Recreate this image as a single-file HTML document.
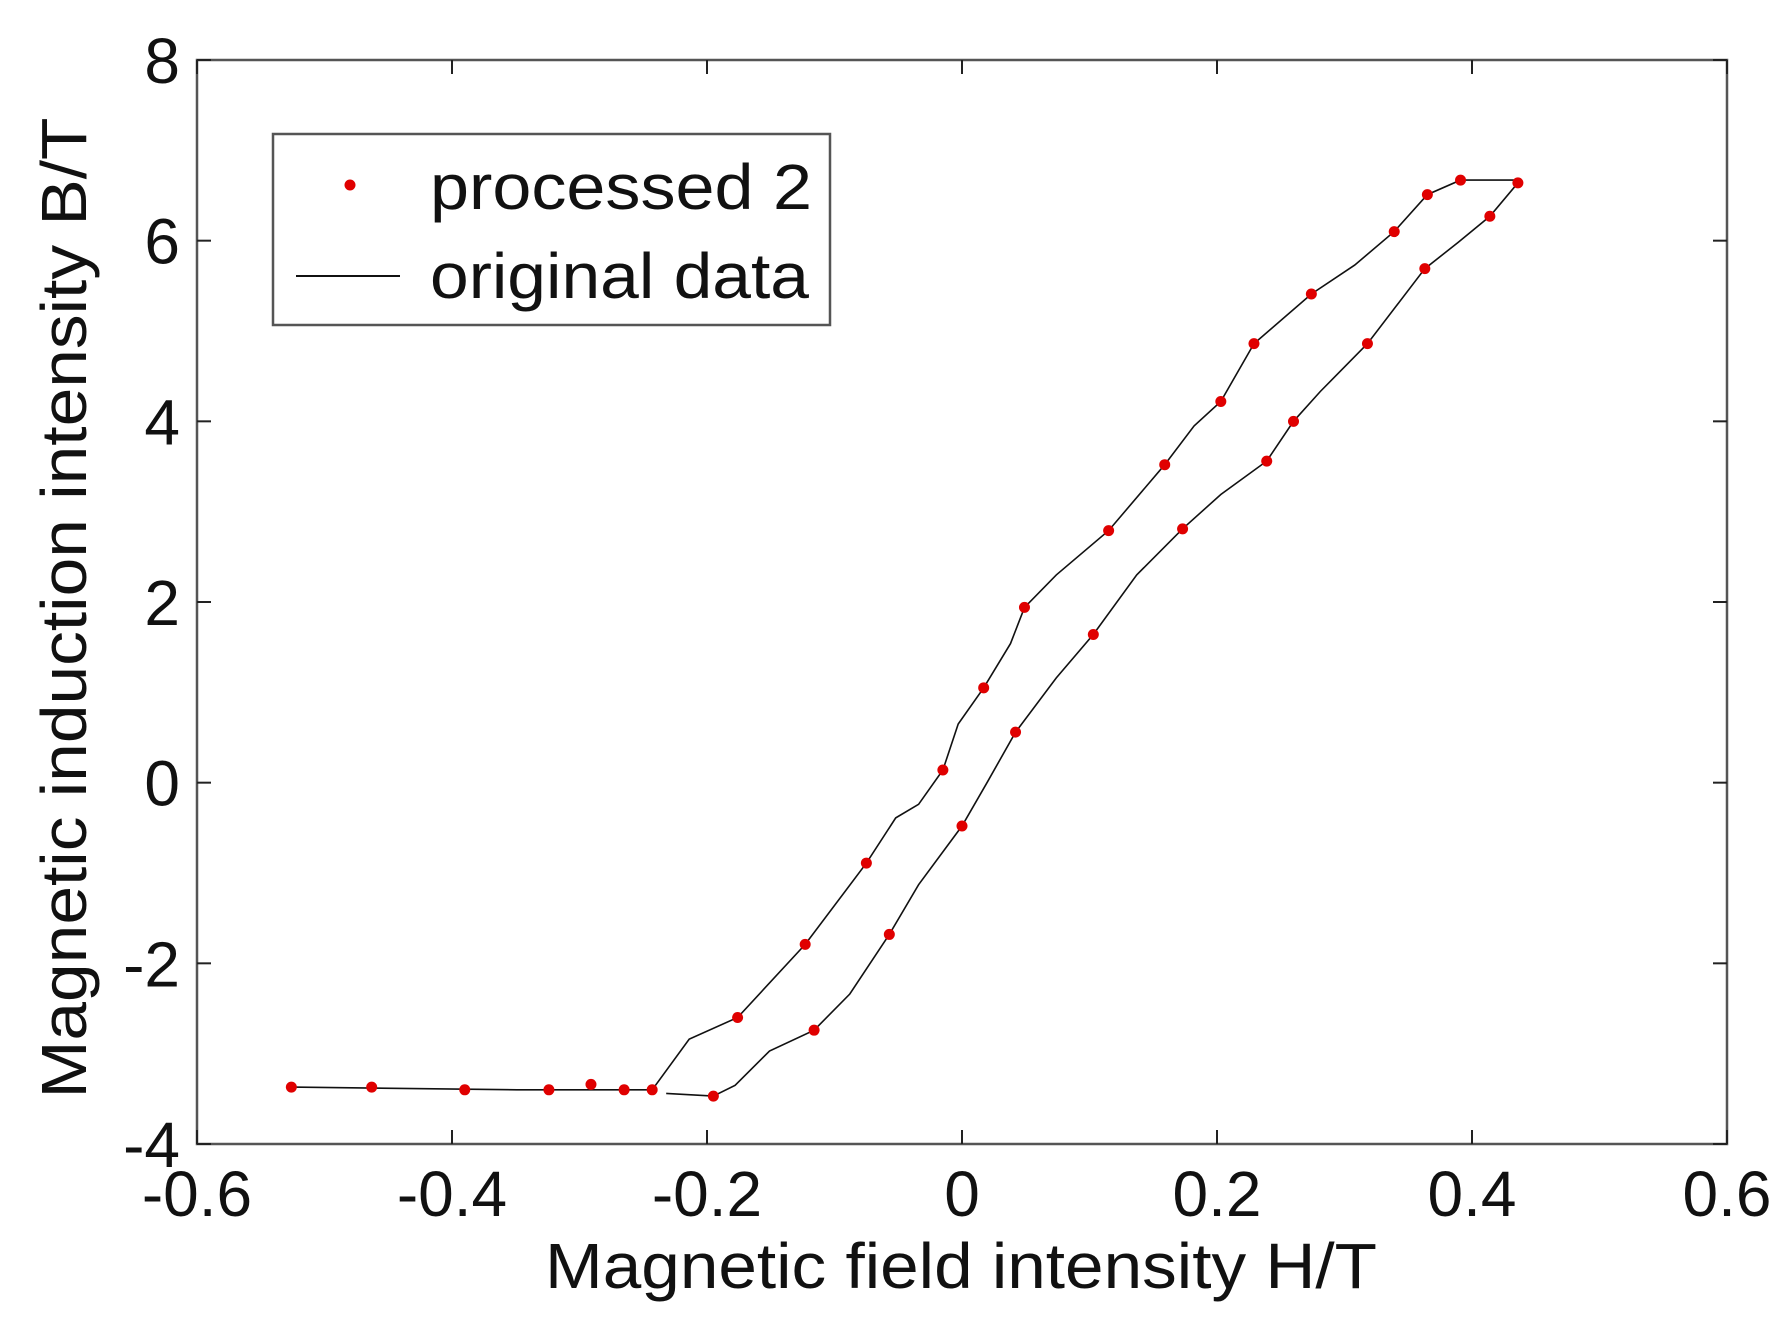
<!DOCTYPE html>
<html><head><meta charset="utf-8"><style>
html,body{margin:0;padding:0;background:#fff;}
svg{display:block;font-family:"Liberation Sans",Arial,sans-serif;}
</style></head><body>
<svg id="chart" width="1790" height="1321" viewBox="0 0 1790 1321" xmlns="http://www.w3.org/2000/svg">
<rect width="1790" height="1321" fill="#fff"/>
<g id="grid"></g>
<g id="series"></g>
<g id="axes"></g>
</svg>
<script>
const xTicks=[-0.6,-0.4,-0.2,0,0.2,0.4,0.6];
const xTickLabels=["-0.6","-0.4","-0.2","0","0.2","0.4","0.6"];
const yTicks=[-4,-2,0,2,4,6,8];
const yTickLabels=["-4","-2","0","2","4","6","8"];
const lineH=[-0.526,-0.349,-0.243,-0.214,-0.176,-0.123,-0.075,-0.052,-0.034,-0.015,-0.003,0.017,0.038,0.049,0.074,0.115,0.159,0.182,0.203,0.229,0.274,0.308,0.339,0.365,0.391,0.436,0.436,0.414,0.389,0.363,0.318,0.281,0.260,0.239,0.203,0.173,0.137,0.103,0.074,0.042,0.020,0.0,-0.034,-0.057,-0.088,-0.116,-0.151,-0.178,-0.195,-0.232];
const lineB=[-3.37,-3.40,-3.40,-2.84,-2.60,-1.79,-0.89,-0.39,-0.24,0.14,0.65,1.05,1.54,1.94,2.30,2.79,3.52,3.95,4.22,4.86,5.41,5.73,6.10,6.51,6.67,6.67,6.64,6.27,5.98,5.69,4.86,4.33,4.00,3.56,3.19,2.81,2.30,1.64,1.16,0.56,0.01,-0.48,-1.13,-1.68,-2.34,-2.74,-2.97,-3.35,-3.47,-3.44];
const ptH=[-0.526,-0.463,-0.390,-0.324,-0.291,-0.265,-0.243,-0.195,-0.176,-0.116,-0.123,-0.075,-0.057,-0.015,0.0,0.017,0.042,0.049,0.103,0.115,0.173,0.159,0.203,0.239,0.260,0.229,0.318,0.274,0.339,0.363,0.365,0.391,0.414,0.436];
const ptB=[-3.37,-3.37,-3.40,-3.40,-3.34,-3.40,-3.40,-3.47,-2.60,-2.74,-1.79,-0.89,-1.68,0.14,-0.48,1.05,0.56,1.94,1.64,2.79,2.81,3.52,4.22,3.56,4.00,4.86,4.86,5.41,6.10,5.69,6.51,6.67,6.27,6.64];

const L=197,R=1727,T=60,Bt=1144;
const sx=v=>L+(v+0.6)/1.2*(R-L);
const sy=v=>Bt-(v+4)/12*(Bt-T);
const NS="http://www.w3.org/2000/svg";
function mk(tag,parent,attrs){const e=document.createElementNS(NS,tag);for(const k in attrs)e.setAttribute(k,attrs[k]);parent.appendChild(e);return e;}
const axes=document.getElementById('axes'),series=document.getElementById('series');

let d=lineH.map((h,i)=>(i?'L':'M')+sx(h).toFixed(1)+','+sy(lineB[i]).toFixed(1)).join(' ');
const ln=mk('path',series,{d:d,fill:'none',stroke:'#111',"stroke-width":1.6});


ptH.forEach((h,i)=>{
 const c=mk('circle',series,{cx:sx(h),cy:sy(ptB[i]),r:5.5,fill:'#e00000'});
 
 
});

const fr=mk('rect',axes,{x:L,y:T,width:R-L,height:Bt-T,fill:'none',stroke:'#555',"stroke-width":2.5});


xTicks.forEach((v,i)=>{
 const x=sx(v);
 mk('line',axes,{x1:x,y1:Bt,x2:x,y2:Bt-14,stroke:'#222',"stroke-width":2});
 mk('line',axes,{x1:x,y1:T,x2:x,y2:T+14,stroke:'#222',"stroke-width":2});
 const t=mk('text',axes,{x:x,y:1216,"font-size":64,"text-anchor":"middle",fill:'#111'});
 t.textContent=xTickLabels[i];
 
 
});
yTicks.forEach((v,i)=>{
 const y=sy(v);
 mk('line',axes,{x1:L,y1:y,x2:L+14,y2:y,stroke:'#222',"stroke-width":2});
 mk('line',axes,{x1:R,y1:y,x2:R-14,y2:y,stroke:'#222',"stroke-width":2});
 const t=mk('text',axes,{x:180,y:y+23,"font-size":64,"text-anchor":"end",fill:'#111'});
 t.textContent=yTickLabels[i];
 
 
});
</script>
<svg style="position:absolute;left:0;top:0" width="1790" height="1321" xmlns="http://www.w3.org/2000/svg" font-family="Liberation Sans, Arial, sans-serif">
<text x="961" y="1288" font-size="64" text-anchor="middle" textLength="832" lengthAdjust="spacingAndGlyphs" fill="#111">Magnetic field intensity H/T</text>
<text transform="translate(86,608) rotate(-90)" font-size="64" text-anchor="middle" textLength="981" lengthAdjust="spacingAndGlyphs" fill="#111">Magnetic induction intensity B/T</text>
<g>
<rect x="273" y="134" width="557" height="191" fill="#fff" stroke="#555" stroke-width="2.5"/>
<circle cx="350" cy="185" r="5.5" fill="#e00000"/>
<text x="430" y="209" font-size="64" textLength="382" lengthAdjust="spacingAndGlyphs" fill="#111">processed 2</text>
<line x1="296" y1="276" x2="400" y2="276" stroke="#111" stroke-width="2"/>
<text x="430" y="298" font-size="64" textLength="379" lengthAdjust="spacingAndGlyphs" fill="#111">original data</text>
</g>
</svg>
</body></html>
